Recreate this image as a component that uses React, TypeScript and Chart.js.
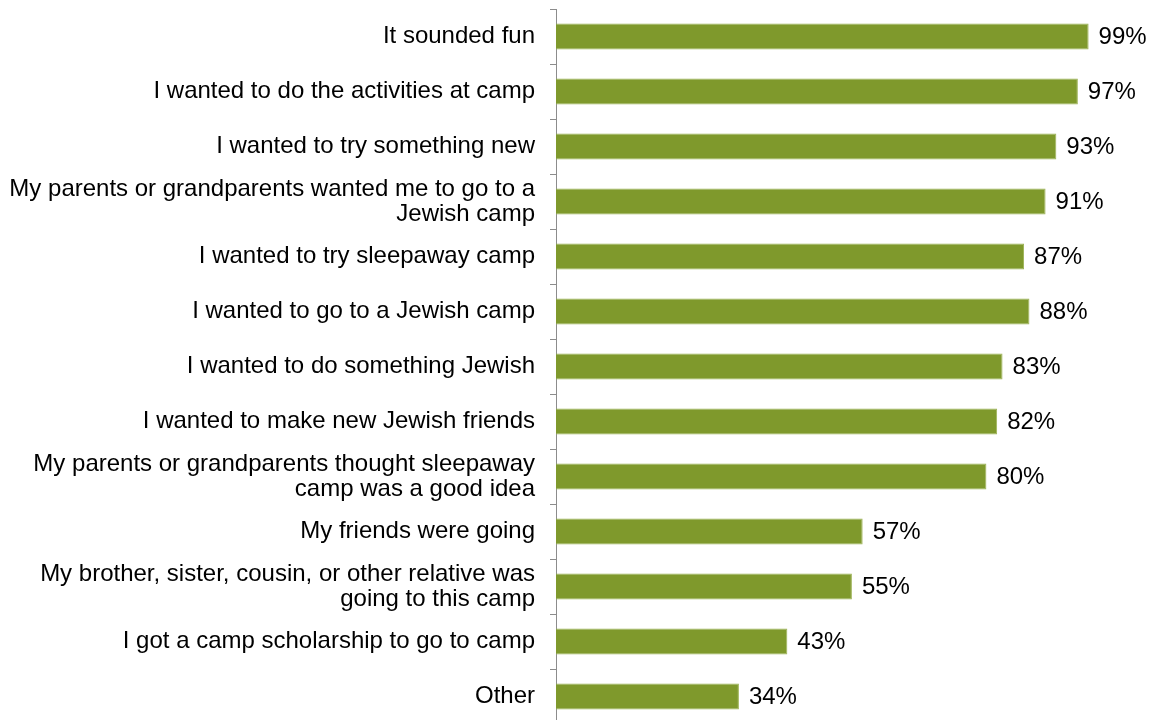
import React, { useEffect, useRef } from "react";
import { Chart, registerables } from "chart.js";

Chart.register(...registerables);

const categories: (string | string[])[] = [
  "It sounded fun",
  "I wanted to do the activities at camp",
  "I wanted to try something new",
  ["My parents or grandparents wanted me to go to a", "Jewish camp"],
  "I wanted to try sleepaway camp",
  "I wanted to go to a Jewish camp",
  "I wanted to do something Jewish",
  "I wanted to make new Jewish friends",
  ["My parents or grandparents thought sleepaway", "camp was a good idea"],
  "My friends were going",
  ["My brother, sister, cousin, or other relative was", "going to this camp"],
  "I got a camp scholarship to go to camp",
  "Other",
];

const values: number[] = [99, 97, 93, 91, 87, 88, 83, 82, 80, 57, 55, 43, 34];

const FONT = '"Liberation Sans", Arial, sans-serif';

const valueLabels = {
  id: "valueLabels",
  afterDatasetsDraw(chart: any) {
    const ctx = chart.ctx;
    const meta = chart.getDatasetMeta(0);
    ctx.save();
    ctx.font = `24px ${FONT}`;
    ctx.fillStyle = "#000";
    ctx.textAlign = "left";
    ctx.textBaseline = "middle";
    meta.data.forEach((bar: any, i: number) => {
      ctx.fillText(`${values[i]}%`, bar.x + 10, bar.y + 1);
    });
    ctx.restore();
  },
};

export default function App() {
  const ref = useRef<HTMLCanvasElement | null>(null);
  useEffect(() => {
    if (!ref.current) return;
    const chart = new Chart(ref.current, {
      type: "bar",
      data: {
        labels: categories,
        datasets: [
          {
            data: values,
            backgroundColor: "#7f992c",
            borderColor: "#9db356",
            borderWidth: 1,
            barPercentage: 0.94,
            categoryPercentage: 0.5,
          },
        ],
      },
      options: {
        indexAxis: "y",
        responsive: false,
        animation: false,
        devicePixelRatio: 1,
        layout: { padding: { top: 1, right: 52, bottom: 0, left: 0 } },
        plugins: {
          legend: { display: false },
          tooltip: { enabled: false },
        },
        scales: {
          x: { display: false, min: 0, max: 100 },
          y: {
            afterFit(scale: any) {
              scale.width = 548;
              scale.paddingTop = 0;
              scale.paddingBottom = 0;
            },
            border: { display: true, color: "#8c8c8c", width: 1 },
            grid: {
              drawOnChartArea: false,
              drawTicks: true,
              tickLength: 6,
              color: "#8c8c8c",
              offset: true,
            },
            ticks: {
              color: "#000",
              padding: 15,
              font: { family: FONT, size: 24, lineHeight: "25px" },
              autoSkip: false,
            },
          },
        },
      },
      plugins: [valueLabels],
    });
    return () => chart.destroy();
  }, []);
  return (
    <div style={{ position: "fixed", top: 8, left: 8 }}>
      <canvas ref={ref} width={1138} height={716} style={{ display: "block" }} />
    </div>
  );
}
